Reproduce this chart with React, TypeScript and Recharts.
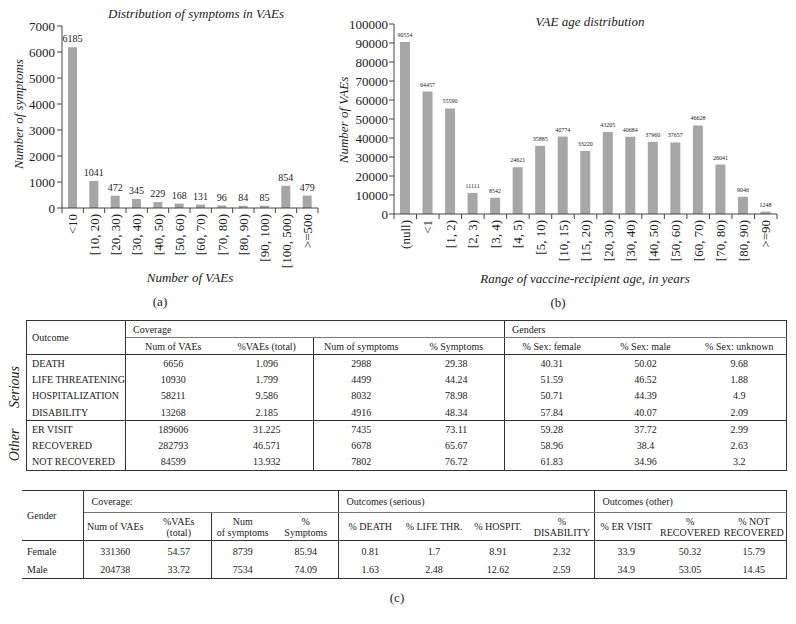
import React from "react";
import { BarChart, Bar, XAxis, YAxis, LabelList } from "recharts";

const symptomBins = ["<10", "[10, 20)", "[20, 30)", "[30, 40)", "[40, 50)", "[50, 60)", "[60, 70)", "[70, 80)", "[80, 90)", "[90, 100)", "[100, 500)", ">=500"];
const symptomCounts = [6185, 1041, 472, 345, 229, 168, 131, 96, 84, 85, 854, 479];
const symptomTicks = [0, 1000, 2000, 3000, 4000, 5000, 6000, 7000];

const ageBins = ["(null)", "<1", "[1, 2)", "[2, 3)", "[3, 4)", "[4, 5)", "[5, 10)", "[10, 15)", "[15, 20)", "[20, 30)", "[30, 40)", "[40, 50)", "[50, 60)", "[60, 70)", "[70, 80)", "[80, 90)", ">=90"];
const ageCounts = [90554, 64457, 55590, 11111, 8542, 24621, 35885, 40774, 33220, 43205, 40684, 37960, 37657, 46628, 26041, 9046, 1248];
const ageTicks = [0, 10000, 20000, 30000, 40000, 50000, 60000, 70000, 80000, 90000, 100000];

// table (c), top part
const outcomeNames = ["DEATH", "LIFE THREATENING", "HOSPITALIZATION", "DISABILITY", "ER VISIT", "RECOVERED", "NOT RECOVERED"];
const outcomeVAEs = [6656, 10930, 58211, 13268, 189606, 282793, 84599];
const outcomePctVAEs = ["1.096", "1.799", "9.586", "2.185", "31.225", "46.571", "13.932"];
const outcomeSymptoms = [2988, 4499, 8032, 4916, 7435, 6678, 7802];
const outcomePctSymptoms = ["29.38", "44.24", "78.98", "48.34", "73.11", "65.67", "76.72"];
const outcomeFemale = ["40.31", "51.59", "50.71", "57.84", "59.28", "58.96", "61.83"];
const outcomeMale = ["50.02", "46.52", "44.39", "40.07", "37.72", "38.4", "34.96"];
const outcomeUnknown = ["9.68", "1.88", "4.9", "2.09", "2.99", "2.63", "3.2"];
const outcomeHeaders = ["Num of VAEs", "%VAEs (total)", "Num of symptoms", "% Symptoms", "% Sex: female", "% Sex: male", "% Sex: unknown"];

// table (c), bottom part
const genderNames = ["Female", "Male"];
const genderVAEs = [331360, 204738];
const genderPctVAEs = ["54.57", "33.72"];
const genderSymptoms = [8739, 7534];
const genderPctSymptoms = ["85.94", "74.09"];
const genderDeath = ["0.81", "1.63"];
const genderLifeThr = ["1.7", "2.48"];
const genderHospit = ["8.91", "12.62"];
const genderDisability = ["2.32", "2.59"];
const genderER = ["33.9", "34.9"];
const genderRecovered = ["50.32", "53.05"];
const genderNotRecovered = ["15.79", "14.45"];
const genderHeaders = [["Num of VAEs"], ["%VAEs", "(total)"], ["Num", "of symptoms"], ["%", "Symptoms"], ["% DEATH"], ["% LIFE THR."], ["% HOSPIT."], ["%", "DISABILITY"], ["% ER VISIT"], ["%", "RECOVERED"], ["% NOT", "RECOVERED"]];

const FONT = '"Liberation Serif", "Times New Roman", serif';
const INK = "#222";
const AXIS = "#444";
const BAR = "#a6a6a6";
const line = "1px solid #333";
const thin = "1px solid #777";

const symptomData = symptomBins.map((bin, i) => ({ bin, count: symptomCounts[i] }));
const ageData = ageBins.map((bin, i) => ({ bin, count: ageCounts[i] }));

const CatTick = (props: any) => {
  const { x, y, payload, index, band, count } = props;
  return (
    <g>
      <line x1={x - band / 2} x2={x - band / 2} y1={y} y2={y + 5} stroke={AXIS} />
      {index === count - 1 && <line x1={x + band / 2} x2={x + band / 2} y1={y} y2={y + 5} stroke={AXIS} />}
      <text
        transform={`translate(${x},${y + 6}) rotate(-90)`}
        textAnchor="end"
        dy="0.35em"
        fontSize={13}
        fill={INK}
        fontFamily={FONT}
      >
        {payload.value}
      </text>
    </g>
  );
};

const Txt = ({ x, y, children, size = 13, italic = false, rotate = false }: any) => (
  <div
    style={{
      position: "absolute",
      left: x,
      top: y,
      transform: `translate(-50%, -50%)${rotate ? " rotate(-90deg)" : ""}`,
      whiteSpace: "nowrap",
      fontSize: size,
      fontStyle: italic ? "italic" : "normal",
      color: INK,
      lineHeight: 1,
    }}
  >
    {children}
  </div>
);

const td = (extra: any = {}) => ({ padding: 0, fontSize: 10, color: INK, textAlign: "center" as const, lineHeight: "11px", ...extra });

export default function App() {
  const t1Cols = [99, 95, 93, 95, 96, 94, 94, 94];
  const t2Cols = [61, 64, 64, 63, 64, 64, 64, 64, 64, 64, 64, 64];
  const t1Right = [0, 2, 4];
  const t2Right = [0, 2, 4, 8];

  return (
    <div style={{ position: "absolute", left: 0, top: 0, width: 796, height: 624, background: "#fff", fontFamily: FONT, overflow: "hidden" }}>
      {/* (a) */}
      <div style={{ position: "absolute", left: 0, top: 0 }}>
        <BarChart width={330} height={300} data={symptomData} margin={{ top: 26, right: 12, left: 0, bottom: 22 }}>
          <XAxis
            dataKey="bin"
            height={70}
            interval={0}
            tickSize={0}
            tickMargin={0}
            tickLine={false}
            axisLine={{ stroke: AXIS }}
            tick={(p: any) => <CatTick {...p} band={256 / 12} count={12} />}
          />
          <YAxis
            width={62}
            domain={[0, 7000]}
            ticks={symptomTicks}
            interval={0}
            tickSize={5}
            tickMargin={2}
            axisLine={{ stroke: AXIS }}
            tickLine={{ stroke: AXIS }}
            tick={{ fontSize: 13, fill: INK, fontFamily: FONT }}
          />
          <Bar dataKey="count" fill={BAR} barSize={9} isAnimationActive={false}>
            <LabelList dataKey="count" position="top" offset={5} style={{ fontSize: 10, fill: INK, fontFamily: FONT }} />
          </Bar>
        </BarChart>
      </div>
      <Txt x={196} y={13} italic>Distribution of symptoms in VAEs</Txt>
      <Txt x={18} y={114} italic rotate>Number of symptoms</Txt>
      <Txt x={190} y={277} italic>Number of VAEs</Txt>
      <Txt x={160} y={301}>(a)</Txt>

      {/* (b) */}
      <div style={{ position: "absolute", left: 330, top: 0 }}>
        <BarChart width={460} height={300} data={ageData} margin={{ top: 24, right: 13, left: 0, bottom: 21 }}>
          <XAxis
            dataKey="bin"
            height={65}
            interval={0}
            tickSize={0}
            tickMargin={0}
            tickLine={false}
            axisLine={{ stroke: AXIS }}
            tick={(p: any) => <CatTick {...p} band={383 / 17} count={17} />}
          />
          <YAxis
            width={64}
            domain={[0, 100000]}
            ticks={ageTicks}
            interval={0}
            tickSize={5}
            tickMargin={1}
            axisLine={{ stroke: AXIS }}
            tickLine={{ stroke: AXIS }}
            tick={{ fontSize: 13, fill: INK, fontFamily: FONT }}
          />
          <Bar dataKey="count" fill={BAR} barSize={10} isAnimationActive={false}>
            <LabelList dataKey="count" position="top" offset={5} style={{ fontSize: 6, fill: INK, fontFamily: FONT }} />
          </Bar>
        </BarChart>
      </div>
      <Txt x={590} y={21} italic>VAE age distribution</Txt>
      <Txt x={343} y={120} italic rotate>Number of VAEs</Txt>
      <Txt x={585} y={278} italic>Range of vaccine-recipient age, in years</Txt>
      <Txt x={558} y={302}>(b)</Txt>

      {/* (c) top table */}
      <Txt x={15} y={387} size={14} italic rotate>Serious</Txt>
      <Txt x={15} y={445} size={14} italic rotate>Other</Txt>
      <table
        style={{ position: "absolute", left: 26, top: 320, width: 760, borderCollapse: "collapse", tableLayout: "fixed", border: line, fontFamily: FONT }}
      >
        <colgroup>
          {t1Cols.map((w, i) => <col key={i} style={{ width: w }} />)}
        </colgroup>
        <tbody>
          <tr style={{ height: 17 }}>
            <td rowSpan={2} style={td({ borderRight: line, borderBottom: line, textAlign: "left", paddingLeft: 5 })}>Outcome</td>
            <td colSpan={4} style={td({ borderRight: line, borderBottom: thin, textAlign: "left", paddingLeft: 7 })}>Coverage</td>
            <td colSpan={3} style={td({ borderBottom: thin, textAlign: "left", paddingLeft: 7 })}>Genders</td>
          </tr>
          <tr style={{ height: 17 }}>
            {outcomeHeaders.map((h, i) => (
              <td key={h} style={td({ borderBottom: line, borderRight: t1Right.includes(i + 1) ? line : undefined })}>{h}</td>
            ))}
          </tr>
          {outcomeNames.map((name, r) => {
            const vals = [outcomeVAEs[r], outcomePctVAEs[r], outcomeSymptoms[r], outcomePctSymptoms[r], outcomeFemale[r], outcomeMale[r], outcomeUnknown[r]];
            return (
              <tr key={name} style={{ height: r < 4 ? 16.5 : 16.7 }}>
                <td style={td({ borderRight: line, textAlign: "left", paddingLeft: 5, borderBottom: r === 3 ? line : undefined })}>{name}</td>
                {vals.map((v, i) => (
                  <td key={i} style={td({ borderRight: t1Right.includes(i + 1) ? line : undefined, borderBottom: r === 3 ? line : undefined })}>{v}</td>
                ))}
              </tr>
            );
          })}
        </tbody>
      </table>

      {/* (c) bottom table */}
      <table
        style={{ position: "absolute", left: 22, top: 490, width: 764, borderCollapse: "collapse", tableLayout: "fixed", borderTop: line, borderBottom: line, borderRight: line, fontFamily: FONT }}
      >
        <colgroup>
          {t2Cols.map((w, i) => <col key={i} style={{ width: w }} />)}
        </colgroup>
        <tbody>
          <tr style={{ height: 22 }}>
            <td rowSpan={2} style={td({ borderRight: line, borderBottom: line, textAlign: "left", paddingLeft: 5 })}>Gender</td>
            <td colSpan={4} style={td({ borderRight: line, borderBottom: thin, textAlign: "left", paddingLeft: 8 })}>Coverage:</td>
            <td colSpan={4} style={td({ borderRight: line, borderBottom: thin, textAlign: "left", paddingLeft: 8 })}>Outcomes (serious)</td>
            <td colSpan={3} style={td({ borderBottom: thin, textAlign: "left", paddingLeft: 8 })}>Outcomes (other)</td>
          </tr>
          <tr style={{ height: 28 }}>
            {genderHeaders.map((h, i) => (
              <td key={i} style={td({ borderBottom: line, borderRight: t2Right.includes(i + 1) ? line : undefined })}>
                {h.map((part, k) => (
                  <React.Fragment key={k}>
                    {k > 0 && <br />}
                    {part}
                  </React.Fragment>
                ))}
              </td>
            ))}
          </tr>
          {genderNames.map((name, r) => {
            const vals = [genderVAEs[r], genderPctVAEs[r], genderSymptoms[r], genderPctSymptoms[r], genderDeath[r], genderLifeThr[r], genderHospit[r], genderDisability[r], genderER[r], genderRecovered[r], genderNotRecovered[r]];
            return (
              <tr key={name} style={{ height: r === 0 ? 21 : 17 }}>
                <td style={td({ borderRight: line, textAlign: "left", paddingLeft: 5 })}>{name}</td>
                {vals.map((v, i) => (
                  <td key={i} style={td({ borderRight: t2Right.includes(i + 1) ? line : undefined })}>{v}</td>
                ))}
              </tr>
            );
          })}
        </tbody>
      </table>
      <Txt x={397} y={597}>(c)</Txt>
    </div>
  );
}
